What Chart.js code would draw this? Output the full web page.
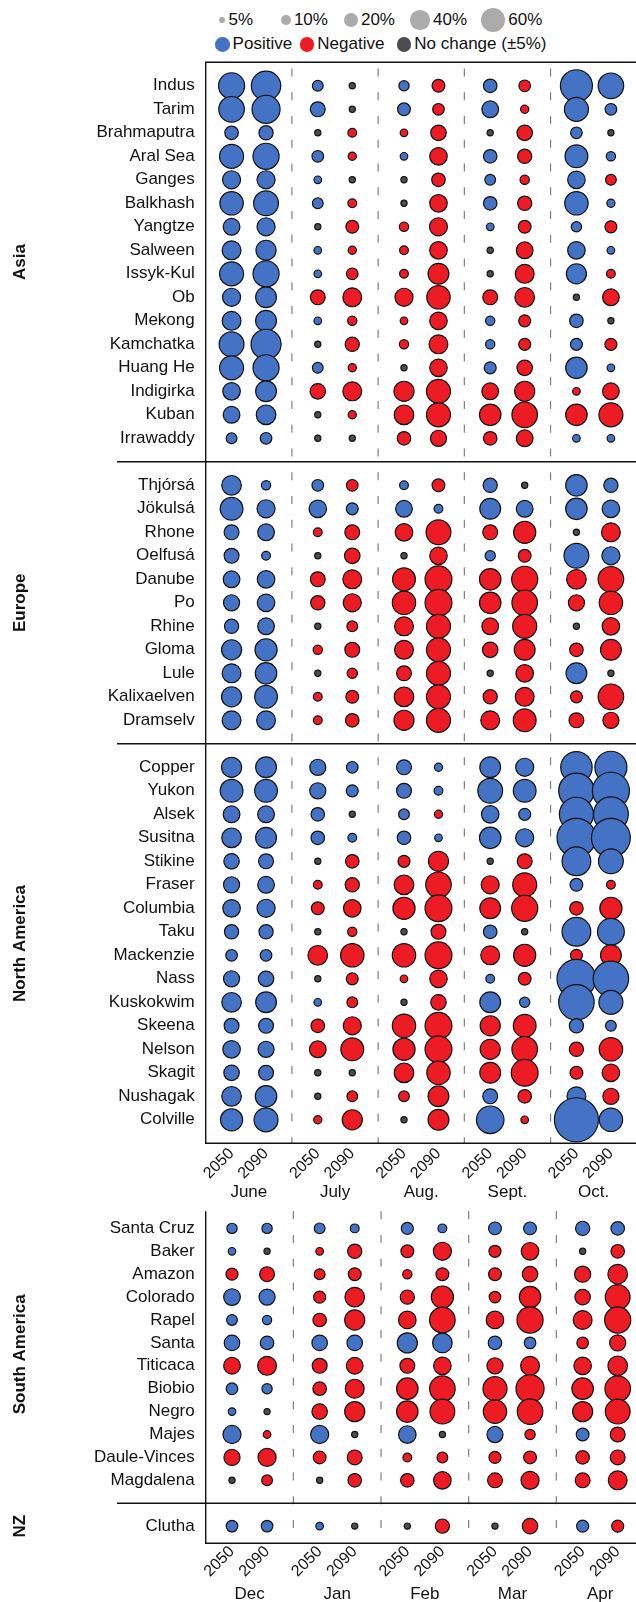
<!DOCTYPE html>
<html><head><meta charset="utf-8">
<script src="https://cdn.jsdelivr.net/npm/chart.js@4.4.1/dist/chart.umd.min.js"></script>
<style>
html,body{margin:0;padding:0;background:#fff;}
body{width:636px;height:1602px;overflow:hidden;position:relative;font-family:"Liberation Sans",Arial,Helvetica,sans-serif;color:#111;}
canvas{position:absolute;left:0;}
.lgt{position:absolute;font-size:17px;line-height:20px;white-space:nowrap;}
.dot{position:absolute;border-radius:50%;}
</style></head><body>
<div id="legend"></div>
<canvas id="topChart" style="top:0px"></canvas>
<canvas id="bottomChart" style="top:1190px"></canvas>
<script>
// ---------- data ----------
const years = ['2050', '2090'];
const northMonths = ['June', 'July', 'Aug.', 'Sept.', 'Oct.'];
const southMonths = ['Dec', 'Jan', 'Feb', 'Mar', 'Apr'];
const sizeLegend = [5, 10, 20, 40, 60];
const colorLegend = ['Positive', 'Negative', 'No change (\u00B15%)'];

const asiaRivers = ['Indus','Tarim','Brahmaputra','Aral Sea','Ganges','Balkhash','Yangtze','Salween','Issyk-Kul','Ob','Mekong','Kamchatka','Huang He','Indigirka','Kuban','Irrawaddy'];
const europeRivers = ['Thjórsá','Jökulsá','Rhone','Oelfusá','Danube','Po','Rhine','Gloma','Lule','Kalixaelven','Dramselv'];
const northAmericaRivers = ['Copper','Yukon','Alsek','Susitna','Stikine','Fraser','Columbia','Taku','Mackenzie','Nass','Kuskokwim','Skeena','Nelson','Skagit','Nushagak','Colville'];
const southAmericaRivers = ['Santa Cruz','Baker','Amazon','Colorado','Rapel','Santa','Titicaca','Biobio','Negro','Majes','Daule-Vinces','Magdalena'];
const nzRivers = ['Clutha'];

// % change per river: [m1 2050, m1 2090, m2 2050, m2 2090, ... m5 2090]
const asiaChange = [
[71, 90, 12, 4, 11, -17, 19, -14, 107, 68],
[68, 82, 23, 4, 17, -14, 29, -7, 60, 14],
[19, 21, 4, -8, -6, -25, 4, -25, 14, 4],
[60, 71, 14, -7, 6, -32, 19, -21, 54, 9],
[34, 34, 6, 4, 4, -19, 12, -9, 32, -12],
[57, 64, 12, -8, 4, -32, 19, -21, 57, 7],
[29, 34, 4, -17, -9, -34, 6, -17, 11, -15],
[37, 42, 6, -7, -8, -32, 4, -29, 32, 6],
[60, 71, 6, -14, -8, -45, 4, -37, 42, -8],
[34, 45, -23, -37, -34, -57, -23, -40, 4, -29],
[37, 45, 6, -9, -6, -32, 9, -15, 19, 4],
[64, 94, 4, -21, -9, -37, 9, -15, 15, -15],
[60, 71, 12, -7, 4, -32, 15, -25, 48, 6],
[32, 45, -25, -37, -42, -60, -29, -42, -6, -29],
[29, 40, 4, -7, -40, -60, -48, -68, -48, -60],
[12, 14, 4, 4, -19, -27, -19, -29, 6, 6]
];
const europeChange = [
[40, 9, 14, -14, 8, -17, 21, 4, 48, 21],
[54, 34, 32, 15, 29, 8, 45, 29, 48, 32],
[23, 29, -8, -23, -32, -64, -23, -51, 4, -37],
[23, 8, 4, -25, 4, -32, 11, -17, 64, 34],
[29, 32, -23, -37, -54, -75, -48, -71, -40, -68],
[27, 32, -21, -34, -57, -75, -48, -68, -27, -57],
[21, 29, 4, -12, -37, -60, -29, -60, 4, -32],
[42, 51, -9, -23, -37, -60, -25, -45, -19, -45],
[37, 48, 4, -11, -23, -60, 4, -32, 45, 4],
[42, 54, -8, -17, -40, -60, -21, -37, -15, -68],
[37, 37, -8, -19, -42, -60, -37, -54, -23, -27]
];
const northAmericaChange = [
[42, 45, 27, 14, 23, 7, 45, 34, 103, 107],
[54, 54, 27, 15, 23, 8, 64, 54, 131, 143],
[29, 29, 19, 4, 12, -7, 32, 15, 121, 126],
[40, 45, 19, 8, 19, 6, 48, 34, 157, 157],
[25, 23, 4, -19, -15, -42, 4, -23, 86, 64],
[27, 29, -8, -21, -40, -68, -34, -60, 17, -8],
[32, 34, -17, -32, -51, -75, -45, -71, -19, -51],
[21, 21, 4, -9, 4, -23, 19, 4, 86, 75],
[14, 14, -40, -57, -57, -75, -37, -51, -15, -45],
[27, 25, 4, -15, -6, -32, 8, -17, 157, 131],
[40, 45, 6, -12, 4, -25, 45, 11, 131, 60],
[23, 23, -19, -34, -57, -75, -42, -54, 21, 12],
[32, 27, -29, -54, -51, -75, -42, -68, -21, -57],
[25, 23, 4, 4, -40, -57, -45, -75, -17, -32],
[40, 48, 4, -12, -12, -45, 23, -19, 37, -27],
[51, 60, -7, -42, 4, -45, 79, -6, 202, 57]
];
const southAmericaChange = [
[11, 11, 12, 8, 15, 8, 17, 17, 21, 19],
[6, 4, -6, -21, -17, -34, -15, -32, 4, -19],
[-15, -23, -12, -17, -9, -17, -17, -25, -27, -40],
[29, 27, -15, -40, -21, -51, -14, -48, -25, -64],
[12, 9, -19, -42, -32, -68, -32, -71, -37, -71],
[25, 19, 25, 25, 42, 40, 19, 14, -14, -27],
[-29, -37, -23, -29, -23, -32, -27, -37, -32, -40],
[14, 11, -19, -37, -48, -68, -60, -82, -48, -68],
[6, 4, -25, -42, -48, -64, -57, -68, -42, -64],
[34, -6, 34, 4, 32, 4, 27, -11, 17, -23],
[-27, -34, -17, -23, -8, -12, -15, -17, -19, -23],
[4, -12, 4, -19, -19, -32, -23, -34, -23, -37]
];
const nzChange = [
[14, 14, 6, 4, 4, -21, 4, -25, 15, -15]
];

// ---------- styling ----------
const FONT = '"Liberation Sans", Arial, Helvetica, sans-serif';
const TEXT = '#111';
const BLUE = '#4472C4', RED = '#ED1C24', GREY = '#4D4D4D', SIZEGREY = '#ABABAB';
const K = 1.55;
const radius = v => K * Math.sqrt(Math.abs(v));
const colourFor = v => v >= 5 ? BLUE : (v <= -5 ? RED : GREY);
const colX = [];
for (let m = 0; m < 5; m++) { colX.push(m - 0.2, m + 0.2); }

// ---------- legend (HTML) ----------
(function () {
  const lg = document.getElementById('legend');
  function add(cx, cy, r, col, text) {
    const d = document.createElement('div');
    d.className = 'dot';
    d.style.left = (cx - r) + 'px'; d.style.top = (cy - r) + 'px';
    d.style.width = (2 * r) + 'px'; d.style.height = (2 * r) + 'px';
    d.style.background = col;
    lg.appendChild(d);
    const t = document.createElement('div');
    t.className = 'lgt';
    t.textContent = text;
    t.style.left = (cx + r + 3) + 'px'; t.style.top = (cy - 10) + 'px';
    lg.appendChild(t);
  }
  const sizeX = [222, 286, 351, 420.3, 493.3];
  sizeLegend.forEach((v, i) => add(sizeX[i], 20, radius(v), SIZEGREY, v + '%'));
  const colX2 = [222.3, 307, 404];
  const cols = [BLUE, RED, GREY];
  colorLegend.forEach((t, i) => add(colX2[i], 44.3, 7.3, cols[i], t));
})();

// ---------- charts ----------
function decorPlugin(cfg) {
  return {
    id: 'decor',
    beforeDatasetsDraw(chart) {
      const {ctx, chartArea: a, scales: {x, y}} = chart;
      ctx.save();
      ctx.strokeStyle = '#7f7f7f'; ctx.lineWidth = 1.2;
      ctx.setLineDash([8, 15.75]); ctx.lineDashOffset = cfg.dashOffset;
      for (let m = 0; m < 4; m++) {
        const px = x.getPixelForValue(m + 0.5);
        ctx.beginPath(); ctx.moveTo(px, a.top); ctx.lineTo(px, a.bottom); ctx.stroke();
      }
      ctx.setLineDash([]);
      ctx.strokeStyle = '#111'; ctx.lineWidth = 1.4;
      ctx.beginPath();
      if (cfg.topBorder) { ctx.moveTo(a.right + 20, a.top); ctx.lineTo(a.left, a.top); }
      else { ctx.moveTo(a.left, a.top); }
      ctx.lineTo(a.left, a.bottom); ctx.lineTo(a.right + 20, a.bottom); ctx.stroke();
      cfg.separators.forEach(v => {
        const py = y.getPixelForValue(v);
        ctx.beginPath(); ctx.moveTo(117, py); ctx.lineTo(a.right + 20, py); ctx.stroke();
      });
      ctx.fillStyle = TEXT; ctx.font = 'bold 17px ' + FONT;
      ctx.textAlign = 'center'; ctx.textBaseline = 'middle';
      cfg.groups.forEach(g => {
        const py = y.getPixelForValue(g.start + (g.rivers.length - 1) / 2);
        ctx.save(); ctx.translate(20.7, py); ctx.rotate(-Math.PI / 2);
        ctx.fillText(g.name, 0, 0); ctx.restore();
      });
      ctx.restore();
    }
  };
}

function makeChart(id, cfg) {
  let start = 0;
  const labels = {};
  const separators = [];
  cfg.groups.forEach((g, gi) => {
    g.start = start;
    g.rivers.forEach((r, i) => { labels[start + i] = r; });
    start += g.rivers.length;
    if (gi < cfg.groups.length - 1) { separators.push(start); start += 1; }
  });
  const pts = [], bg = [];
  cfg.groups.forEach(g => g.values.forEach((row, ri) => row.forEach((v, c) => {
    pts.push({x: colX[c], y: g.start + ri, r: radius(v)});
    bg.push(colourFor(v));
  })));
  const tickFont = {size: 17, family: FONT};
  const yearFont = {size: 16, family: FONT};
  const canvas = document.getElementById(id);
  canvas.width = 660; canvas.height = cfg.height;
  const noClip = s => { s._computeLabelArea = () => undefined; };
  const noGrid = {display: false, drawTicks: false, tickLength: 0};
  return new Chart(canvas, {
    type: 'bubble',
    data: {datasets: [{data: pts, backgroundColor: bg, borderColor: '#111', borderWidth: 1.2,
      hoverBorderWidth: 1.2, hoverRadius: 0}]},
    options: {
      responsive: false, maintainAspectRatio: false, animation: false, events: [],
      layout: {padding: {top: cfg.padTop, right: 16, bottom: 0, left: 0}},
      plugins: {legend: {display: false}, tooltip: {enabled: false}},
      scales: {
        x: {type: 'linear', position: 'bottom', min: -0.5, max: 4.5, weight: 0,
          grid: noGrid, border: {display: false},
          afterBuildTicks: s => { s.ticks = colX.map(v => ({value: v})); },
          afterFit: s => { s.height = 38; s.paddingLeft = 0; s.paddingRight = 0; noClip(s); },
          ticks: {autoSkip: false, minRotation: 45, maxRotation: 45, padding: cfg.yearPad, color: TEXT, font: yearFont,
            callback: (v, i) => years[i % 2]}},
        xm: {type: 'linear', position: 'bottom', min: -0.5, max: 4.5, weight: 1,
          grid: noGrid, border: {display: false},
          afterBuildTicks: s => { s.ticks = cfg.months.map((_, i) => ({value: i})); },
          afterFit: s => { s.height = cfg.monthH; s.paddingLeft = 0; s.paddingRight = 0; noClip(s); },
          ticks: {autoSkip: false, minRotation: 0, maxRotation: 0, padding: cfg.monthPad, color: TEXT, font: tickFont,
            callback: (v, i) => cfg.months[i]}},
        y: {type: 'linear', reverse: true, min: cfg.yMin, max: cfg.yMax,
          grid: noGrid, border: {display: false},
          afterBuildTicks: s => { s.ticks = Object.keys(labels).map(k => ({value: +k})); },
          afterFit: s => { s.width = 205.7; },
          ticks: {autoSkip: false, padding: 11, color: TEXT, font: tickFont,
            callback: v => labels[v]}}
      }
    },
    plugins: [decorPlugin({groups: cfg.groups, separators, topBorder: cfg.topBorder, dashOffset: cfg.dashOffset})]
  });
}

makeChart('topChart', {
  height: 1200, padTop: 62.3, monthH: 18.7, yMin: -1, yMax: 45, topBorder: true, dashOffset: 17.5,
  yearPad: 1, monthPad: 1,
  months: northMonths,
  groups: [
    {name: 'Asia', rivers: asiaRivers, values: asiaChange},
    {name: 'Europe', rivers: europeRivers, values: europeChange},
    {name: 'North America', rivers: northAmericaRivers, values: northAmericaChange}
  ]
});
makeChart('bottomChart', {
  height: 412, padTop: 11.7, monthH: 20.7, yMin: -0.75, yMax: 13.75, topBorder: false, dashOffset: 0,
  yearPad: -1, monthPad: 3,
  months: southMonths,
  groups: [
    {name: 'South America', rivers: southAmericaRivers, values: southAmericaChange},
    {name: 'NZ', rivers: nzRivers, values: nzChange}
  ]
});
</script>
</body></html>
